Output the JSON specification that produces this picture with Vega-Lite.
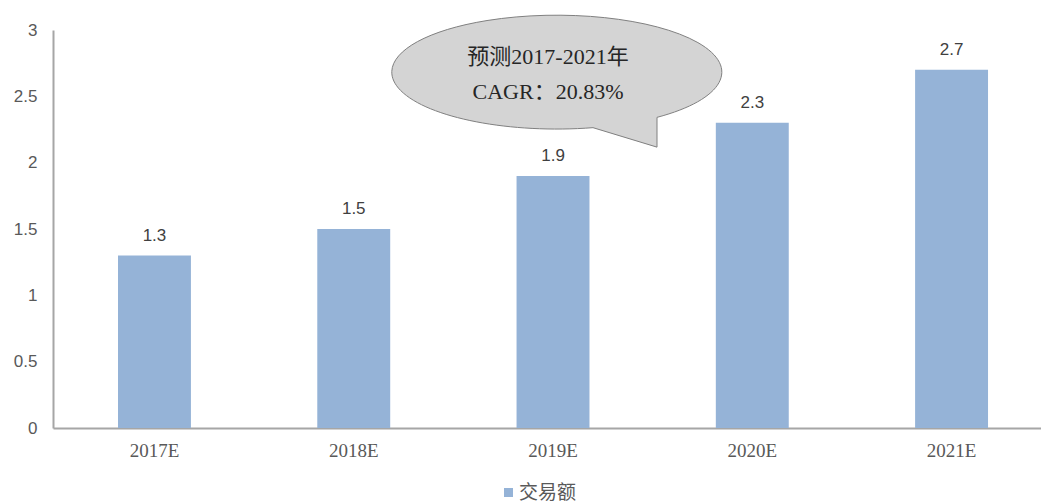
{
  "$schema": "https://vega.github.io/schema/vega-lite/v6.json",
  "width": 988,
  "height": 398,
  "autosize": "none",
  "padding": {"left": 53, "top": 30, "right": 0, "bottom": 76},
  "background": "white",
  "config": {"view": {"stroke": null}},
  "datasets": {
    "bars": [
      {"year": "2017E", "value": 1.3, "series": "交易额"},
      {"year": "2018E", "value": 1.5, "series": "交易额"},
      {"year": "2019E", "value": 1.9, "series": "交易额"},
      {"year": "2020E", "value": 2.3, "series": "交易额"},
      {"year": "2021E", "value": 2.7, "series": "交易额"}
    ],
    "bubble": [
      {"year": "2019E", "value": 2.683}
    ],
    "note": [
      {"year": "2019E", "value": 2.797, "text": "预测2017-2021年"},
      {"year": "2019E", "value": 2.533, "text": "CAGR：20.83%"}
    ]
  },
  "encoding": {
    "x": {
      "field": "year",
      "type": "nominal",
      "sort": null,
      "scale": {"paddingInner": 0.634, "paddingOuter": 0.296, "align": 0.551},
      "axis": {
        "title": null,
        "labelAngle": 0,
        "ticks": false,
        "labelPadding": 13,
        "labelFont": "Liberation Serif",
        "labelFontSize": 19,
        "labelColor": "#595959",
        "domainColor": "#a6a6a6",
        "domainWidth": 2
      }
    },
    "y": {
      "field": "value",
      "type": "quantitative",
      "scale": {"domain": [0, 3], "nice": false},
      "axis": {
        "title": null,
        "values": [0, 0.5, 1, 1.5, 2, 2.5, 3],
        "labelExpr": "'' + datum.value",
        "grid": false,
        "ticks": false,
        "labelPadding": 16,
        "labelFont": "Liberation Sans",
        "labelFontSize": 17,
        "labelColor": "#595959",
        "domainColor": "#a6a6a6",
        "domainWidth": 2
      }
    }
  },
  "layer": [
    {
      "data": {"name": "bars"},
      "mark": {"type": "bar"},
      "encoding": {
        "color": {
          "field": "series",
          "type": "nominal",
          "scale": {"range": ["#95b3d7"]},
          "legend": {
            "title": null,
            "orient": "none",
            "legendX": 446,
            "legendY": 453,
            "symbolType": "square",
            "symbolSize": 81,
            "symbolStrokeWidth": 0,
            "labelFont": "Noto Sans CJK SC",
            "labelFontSize": 19,
            "labelColor": "#595959",
            "labelOffset": 1
          }
        }
      }
    },
    {
      "data": {"name": "bars"},
      "mark": {
        "type": "text",
        "baseline": "alphabetic",
        "dy": -15,
        "font": "Liberation Sans",
        "fontSize": 17,
        "color": "#404040"
      },
      "encoding": {"text": {"field": "value", "type": "quantitative", "format": ".1f"}}
    },
    {
      "data": {"name": "bubble"},
      "mark": {
        "type": "point",
        "shape": "M 0.218 0.337 L 0.606 0.455 L 0.606 0.2745 A 1 0.345 0 1 0 0.218 0.337 Z",
        "size": 108900,
        "filled": true,
        "fill": "#d4d4d4",
        "stroke": "#808080",
        "strokeWidth": 1,
        "opacity": 1,
        "xOffset": 4
      },
      "encoding": {}
    },
    {
      "data": {"name": "note"},
      "mark": {
        "type": "text",
        "align": "center",
        "baseline": "middle",
        "dx": -5,
        "font": "Liberation Serif, Noto Sans CJK SC",
        "fontSize": 22,
        "fontWeight": "normal",
        "color": "#262626"
      },
      "encoding": {"text": {"field": "text", "type": "nominal"}}
    }
  ]
}
